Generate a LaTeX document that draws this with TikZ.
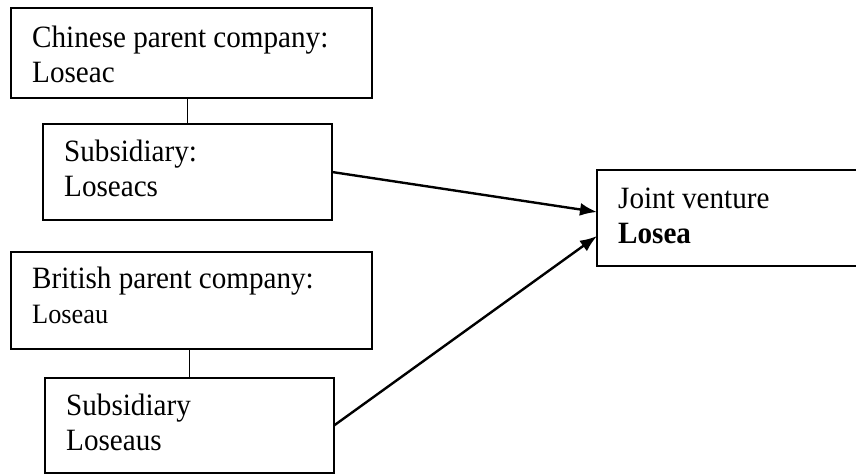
\documentclass[tikz,border=0pt]{standalone}
\usepackage{fontspec}
\setmainfont{Liberation Serif}[FakeStretch=0.94]
\usetikzlibrary{arrows.meta,calc}
\begin{document}
\begin{tikzpicture}[x=1pt,y=-1pt,
  box/.style={draw=black, line width=1.8pt, rectangle, inner sep=0pt, outer sep=0pt, anchor=north west},
  txt/.style={anchor=base west, align=left, inner sep=0pt, font=\fontsize{31}{35}\selectfont},
  conn/.style={draw=black, line width=1.3pt},
  arr/.style={draw=black, line width=2.4pt, -{Latex[length=17pt,width=13pt]}}]
\useasboundingbox (0,0) rectangle (856,474);
\fill[white] (0,0) rectangle (856,474);
\clip (0,0) rectangle (856,474);
% boxes
\node[box, minimum width=361pt, minimum height=90pt] (b1) at (11,8) {};
\node[box, minimum width=289pt, minimum height=96pt] (b2) at (43,124) {};
\node[box, minimum width=361pt, minimum height=97pt] (b3) at (11,252) {};
\node[box, minimum width=289pt, minimum height=95pt] (b4) at (45,378) {};
\node[box, minimum width=303pt, minimum height=96pt] (jv) at (597,170) {};
% texts (anchor = baseline of the last line)
\node[txt] (t1) at (32,82) {Chinese parent company:\\Loseac};
\node[txt] (t2) at (64,196) {Subsidiary:\\Loseacs};
\node[txt] (t3) at (32,323) {British parent company:\\\fontsize{28}{31}\selectfont Loseau};
\node[txt] (t4) at (66,450) {Subsidiary\\Loseaus};
\node[txt] (t5) at (618,243) {Joint venture\\\textbf{Losea}};
% connectors
\draw[conn] (b2.north) -- (b2.north |- b1.south);
\draw[conn] (b4.north) -- (b4.north |- b3.south);
\draw[arr] (b2.east) -- ($(jv.west)+(0,-6)$);
\draw[arr] (b4.east) -- ($(jv.west)+(0,18)$);
\end{tikzpicture}
\end{document}
